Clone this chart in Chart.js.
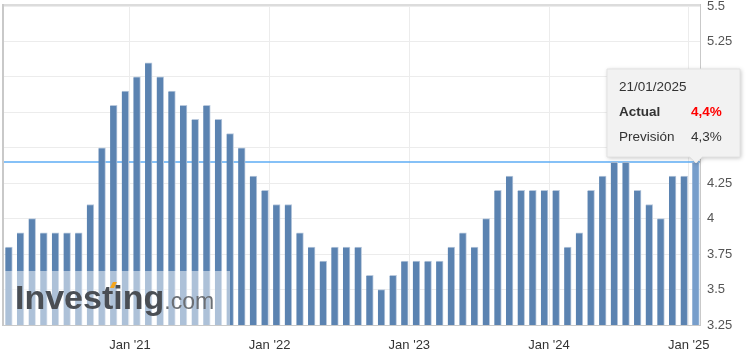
<!DOCTYPE html>
<html lang="es">
<head>
<meta charset="UTF-8">
<title>Tasa de desempleo</title>
<script src="https://cdn.jsdelivr.net/npm/chart.js@4.4.1/dist/chart.umd.min.js"></script>
<style>
  html, body { margin: 0; padding: 0; background: #fff; }
  #wrap { width: 755px; height: 362px; }
</style>
</head>
<body>
<div id="wrap"><canvas id="chart" width="755" height="362"></canvas></div>
<script>
// one release per month, Feb 2020 .. Jan 2025
const months = [
  '2020-02','2020-03','2020-04','2020-05','2020-06','2020-07','2020-08','2020-09','2020-10','2020-11','2020-12',
  '2021-01','2021-02','2021-03','2021-04','2021-05','2021-06','2021-07','2021-08','2021-09','2021-10','2021-11','2021-12',
  '2022-01','2022-02','2022-03','2022-04','2022-05','2022-06','2022-07','2022-08','2022-09','2022-10','2022-11','2022-12',
  '2023-01','2023-02','2023-03','2023-04','2023-05','2023-06','2023-07','2023-08','2023-09','2023-10','2023-11','2023-12',
  '2024-01','2024-02','2024-03','2024-04','2024-05','2024-06','2024-07','2024-08','2024-09','2024-10','2024-11','2024-12',
  '2025-01'
];
const values = [
  3.8, 3.9, 4.0, 3.9, 3.9, 3.9, 3.9, 4.1, 4.5, 4.8, 4.9,
  5.0, 5.1, 5.0, 4.9, 4.8, 4.7, 4.8, 4.7, 4.6, 4.5, 4.3, 4.2,
  4.1, 4.1, 3.9, 3.8, 3.7, 3.8, 3.8, 3.8, 3.6, 3.5, 3.6, 3.7,
  3.7, 3.7, 3.7, 3.8, 3.9, 3.8, 4.0, 4.2, 4.3, 4.2, 4.2, 4.2,
  4.2, 3.8, 3.9, 4.2, 4.3, 4.4, 4.4, 4.2, 4.1, 4.0, 4.3, 4.3,
  4.4
];
const xTickMonths = ['2021-01', '2022-01', '2023-01', '2024-01', '2025-01'];
const xTickLabels = ["Jan '21", "Jan '22", "Jan '23", "Jan '24", "Jan '25"];
const yTicks = [3.25, 3.5, 3.75, 4, 4.25, 4.5, 4.75, 5, 5.25, 5.5];
const yTickLabels = ['3.25', '3.5', '3.75', '4', '4.25', '4.5', '4.75', '5', '5.25', '5.5'];

const tipDate = '21/01/2025';
const tipActual = '4,4%';
const tipForecast = '4,3%';

// months counted from Jan 2021; releases land a bit after the start of the month
const releaseOffset = 0.6;
function monthNum(m) {
  const [y, mo] = m.split('-').map(Number);
  return (y - 2021) * 12 + (mo - 1);
}

const points = months.map((m, i) => ({ x: monthNum(m) + releaseOffset, y: values[i] }));
const last = points.length - 1;
const barColors = points.map((p, i) => i === last ? '#779ecb' : '#5b83b1');
const barBorders = points.map((p, i) => i === last ? '#a9c2e0' : '#b9c9dd');

const FONT = '"Liberation Sans", Arial, sans-serif';

const decor = {
  id: 'decor',
  beforeDatasetsDraw(chart) {
    const { ctx, chartArea: a, scales: { y } } = chart;
    const yy = Math.round(y.getPixelForValue(values[last]));
    ctx.save();
    ctx.strokeStyle = '#5eacf4';
    ctx.lineWidth = 1.5;
    ctx.beginPath();
    ctx.moveTo(a.left, yy);
    ctx.lineTo(a.right, yy);
    ctx.stroke();
    ctx.restore();
  },
  afterDatasetsDraw(chart) {
    const { ctx, chartArea: a } = chart;
    ctx.save();
    // watermark
    ctx.fillStyle = 'rgba(255,255,255,0.5)';
    ctx.fillRect(a.left, 271, 227, a.bottom - 271);
    ctx.font = 'bold 34px ' + FONT;
    ctx.fillStyle = '#4a4e54';
    ctx.textBaseline = 'alphabetic';
    ctx.fillText('Investing', 15, 309);
    const w = ctx.measureText('Investing').width;
    const wt = ctx.measureText('Inves').width;
    ctx.fillStyle = '#f4a51c';
    ctx.beginPath();
    ctx.moveTo(15 + wt + 8, 288);
    ctx.lineTo(15 + wt + 11, 282);
    ctx.lineTo(15 + wt + 15, 282);
    ctx.lineTo(15 + wt + 12, 288);
    ctx.closePath();
    ctx.fill();
    ctx.font = '23px ' + FONT;
    ctx.fillStyle = '#6b6f74';
    ctx.fillText('.com', 15 + w, 309);

    // frame
    ctx.fillStyle = '#dcdcdc';
    ctx.fillRect(a.left - 1, a.top - 2, a.right - a.left + 1, 2);
    ctx.fillStyle = '#c9c9c9';
    ctx.fillRect(a.left - 1, a.top - 2, 2, a.bottom - a.top + 2);
    ctx.fillRect(a.right - 1, a.top - 2, 1, a.bottom - a.top + 2);
    ctx.fillRect(a.left - 1, a.bottom, a.right - a.left + 1, 1);
    ctx.restore();
  },
  afterDraw(chart) {
    const { ctx, scales: { x, y } } = chart;
    const cx = Math.round(x.getPixelForValue(points[last].x));
    const cy = Math.round(y.getPixelForValue(values[last]));
    const right = cx + 44, left = cx - 89;
    const bottom = cy - 5, top = bottom - 88;
    ctx.save();
    ctx.shadowColor = 'rgba(0,0,0,0.25)';
    ctx.shadowBlur = 4;
    ctx.shadowOffsetX = 1;
    ctx.shadowOffsetY = 1;
    ctx.fillStyle = '#f2f2f2';
    ctx.beginPath();
    ctx.moveTo(left, top);
    ctx.lineTo(right, top);
    ctx.lineTo(right, bottom);
    ctx.lineTo(cx + 6, bottom);
    ctx.lineTo(cx, bottom + 6);
    ctx.lineTo(cx - 6, bottom);
    ctx.lineTo(left, bottom);
    ctx.closePath();
    ctx.fill();
    ctx.shadowColor = 'transparent';
    ctx.strokeStyle = '#e2e2e2';
    ctx.lineWidth = 1;
    ctx.stroke();

    ctx.textBaseline = 'alphabetic';
    ctx.textAlign = 'left';
    ctx.fillStyle = '#333';
    ctx.font = '13.5px ' + FONT;
    ctx.fillText(tipDate, left + 12, top + 22);
    ctx.font = 'bold 13.5px ' + FONT;
    ctx.fillText('Actual', left + 12, top + 47);
    ctx.fillStyle = '#ff0000';
    ctx.fillText(tipActual, left + 84, top + 47);
    ctx.fillStyle = '#333';
    ctx.font = '13.5px ' + FONT;
    ctx.fillText('Previsión', left + 12, top + 72);
    ctx.fillText(tipForecast, left + 84, top + 72);
    ctx.restore();
  }
};

new Chart(document.getElementById('chart'), {
  type: 'bar',
  data: {
    datasets: [{
      data: points,
      backgroundColor: barColors,
      borderColor: barBorders,
      borderWidth: { top: 1, right: 1, left: 0, bottom: 0 },
      borderSkipped: false,
      barThickness: 7
    }]
  },
  options: {
    responsive: false,
    animation: false,
    events: [],
    layout: { padding: { left: 3, top: 6, right: 0, bottom: 0 } },
    plugins: { legend: { display: false }, tooltip: { enabled: false } },
    scales: {
      x: {
        type: 'linear',
        min: -10.9,
        max: 49.05,
        offset: false,
        afterBuildTicks: s => { s.ticks = xTickMonths.map(m => ({ value: monthNum(m) })); },
        afterFit: s => { s.height = 37; s.paddingLeft = 0; s.paddingRight = 0; },
        ticks: {
          autoSkip: false,
          maxRotation: 0,
          padding: 13,
          color: '#333',
          font: { family: FONT, size: 13 },
          callback: (v, i) => xTickLabels[i]
        },
        grid: { color: '#ececec', drawTicks: false, offset: false },
        border: { display: false }
      },
      y: {
        position: 'right',
        min: 3.25,
        max: 5.5,
        afterBuildTicks: s => { s.ticks = yTicks.map(v => ({ value: v })); },
        afterFit: s => { s.width = 54; s.paddingTop = 0; s.paddingBottom = 0; },
        ticks: {
          padding: 6,
          color: '#555',
          font: { family: FONT, size: 13 },
          callback: (v, i) => yTickLabels[i]
        },
        grid: { color: '#ececec', drawTicks: false },
        border: { display: false }
      }
    }
  },
  plugins: [decor]
});
</script>
</body>
</html>
